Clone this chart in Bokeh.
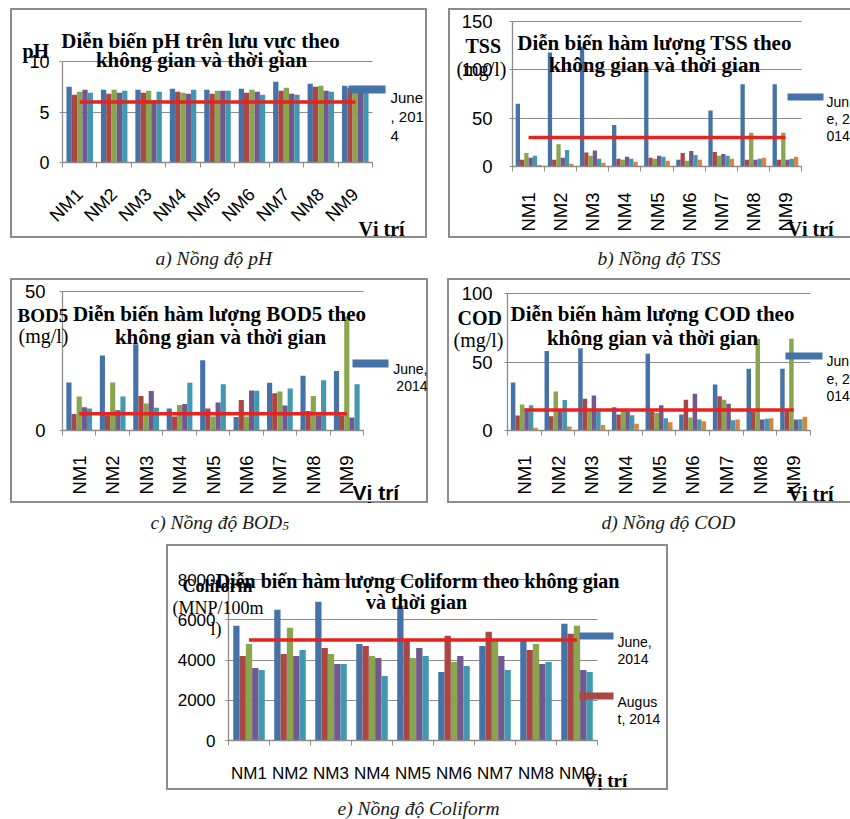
import math
from bokeh.plotting import figure
from bokeh.models import Range1d, FixedTicker, Label, BoxAnnotation, Spacer
from bokeh.layouts import column, row
from bokeh.embed import file_html
from bokeh.resources import INLINE

# ---------------- data ----------------
categories = ["NM1", "NM2", "NM3", "NM4", "NM5", "NM6", "NM7", "NM8", "NM9"]
series_names = ["June, 2014", "August, 2014", "Đợt 3", "Đợt 4", "Đợt 5", "Đợt 6"]
series_colors = ["#4572A7", "#AA4643", "#89A54E", "#71588F", "#4198AF", "#DB843D"]

ph_s1 = [7.5, 7.2, 7.2, 7.3, 7.2, 7.3, 8.0, 7.8, 7.6]
ph_s2 = [6.7, 6.8, 6.9, 7.0, 6.8, 6.9, 7.1, 7.5, 7.4]
ph_s3 = [7.0, 7.2, 7.1, 6.9, 7.1, 7.2, 7.4, 7.6, 6.9]
ph_s4 = [7.2, 6.9, 6.2, 6.8, 7.1, 7.0, 6.8, 7.1, 7.1]
ph_s5 = [6.9, 7.1, 7.0, 7.2, 7.1, 6.7, 6.7, 7.0, 7.0]
ph_limit = 6
ph_ticks = [0, 5, 10]

tss_s1 = [65, 118, 124, 43, 103, 7, 58, 85, 85]
tss_s2 = [7, 7, 14.5, 8, 9, 14, 15, 7, 7]
tss_s3 = [14, 23, 11, 7, 8, 6, 11, 35, 35]
tss_s4 = [9, 9, 16.5, 10, 11, 16, 13, 7, 7]
tss_s5 = [11, 17, 8, 8, 10, 12, 11, 8, 8]
tss_s6 = [1.5, 2.8, 3.8, 4.8, 5.9, 6.9, 7.9, 9.0, 10.0]
tss_limit = 30
tss_ticks = [0, 50, 100, 150]

bod_s1 = [17.3, 27, 31, 7.9, 25.3, 4.9, 17.2, 19.7, 21.4]
bod_s2 = [5.9, 5.5, 12.4, 5.0, 7.9, 11, 13.4, 7.0, 5.5]
bod_s3 = [12.2, 17.3, 9.7, 9.2, 5.0, 5.0, 14, 12.4, 41]
bod_s4 = [8.4, 7.3, 14.2, 9.5, 10.1, 14.4, 9.0, 5.5, 4.7]
bod_s5 = [7.9, 12.2, 8.2, 17.2, 16.6, 14.3, 15.1, 18.1, 16.6]
bod_limit = 6
bod_ticks = [0, 50]

cod_s1 = [35, 58, 60, 17, 56, 11.6, 33.6, 45, 45]
cod_s2 = [11, 10.4, 23.2, 11.6, 14, 22.5, 25, 14, 14]
cod_s3 = [19, 28.5, 14, 14.5, 12.8, 9.4, 22.5, 67, 67]
cod_s4 = [16, 14, 25.6, 14, 18.4, 26.8, 19.6, 8, 8]
cod_s5 = [18.4, 22.2, 14, 11.1, 8.9, 8, 7.5, 8.5, 8.2]
cod_s6 = [2, 3, 4, 5, 6, 6.8, 8, 9, 10]
cod_limit = 15
cod_ticks = [0, 50, 100]

col_s1 = [5700, 6500, 6900, 4800, 6700, 3400, 4700, 5000, 5800]
col_s2 = [4200, 4300, 4600, 4700, 5000, 5200, 5400, 4500, 5300]
col_s3 = [4800, 5600, 4300, 4200, 4100, 3900, 5000, 4800, 5700]
col_s4 = [3600, 4200, 3800, 4100, 4600, 4200, 4200, 3800, 3500]
col_s5 = [3500, 4500, 3800, 3200, 4200, 3700, 3500, 3900, 3400]
col_limit = 5000
col_ticks = [0, 2000, 4000, 6000, 8000]

# ---------------- style ----------------
SERIF = "Liberation Serif"
SANS = "Liberation Sans"
GRAY = "#8c8c8c"
LIMIT_RED = "#E52421"
FULL_BOX = "inset 0 0 0 2px #8c8c8c"
OPEN_BOX = "inset 2px 0 0 #8c8c8c, inset 0 2px 0 #8c8c8c, inset 0 -2px 0 #8c8c8c"


def make_panel(g, series, limit, yticks, orient, xstand, ystand, tick_size,
               texts, swatches, box_shadow):
    """g: figure box (fx, fy, w, h) and plot area (L, T, R, B), page pixels."""
    n = len(categories)
    ymax = yticks[-1]
    l = g["L"] - g["fx"]
    t = g["T"] - g["fy"]
    r = g["R"] - g["fx"]
    b = g["B"] - g["fy"]
    sx = (r - l) / n
    sy = (b - t) / ymax

    def to_data(X, Y):
        return ((X - g["L"]) / sx, (g["B"] - Y) / sy)

    p = figure(width=g["w"], height=g["h"],
               x_range=Range1d(-l / sx, (g["w"] - l) / sx),
               y_range=Range1d(-(g["h"] - b) / sy, b / sy),
               title=None, toolbar_location=None, output_backend="svg",
               min_border=0, min_border_left=0, min_border_right=0,
               min_border_top=0, min_border_bottom=0,
               border_fill_color=None, background_fill_color=None,
               outline_line_color=None)
    p.styles = {"box-shadow": box_shadow}

    k = len(series)
    bw = 1.0 / (k + 1.5)
    centers = [i + 0.5 for i in range(n)]
    for j, vals in enumerate(series):
        xs = [c + (j - (k - 1) / 2.0) * bw for c in centers]
        p.vbar(x=xs, top=vals, bottom=0, width=bw,
               fill_color=series_colors[j], line_color=None)
    p.line(x=centers, y=[limit] * n, line_color=LIMIT_RED, line_width=3.5)

    xa = p.xaxis[0]
    xa.fixed_location = 0
    xa.bounds = (0, n)
    xa.ticker = FixedTicker(ticks=centers, minor_ticks=list(range(n + 1)))
    xa.major_label_overrides = {c: name for c, name in zip(centers, categories)}
    xa.major_tick_out = 0
    xa.major_tick_in = 0
    xa.minor_tick_out = 5
    xa.minor_tick_in = 0
    xa.minor_tick_line_color = GRAY
    xa.axis_line_color = GRAY
    xa.axis_line_width = 1.3
    xa.major_label_orientation = orient
    xa.major_label_standoff = xstand
    xa.major_label_text_font = SANS
    xa.major_label_text_font_size = tick_size
    xa.major_label_text_color = "black"

    ya = p.yaxis[0]
    ya.fixed_location = 0
    ya.bounds = (0, ymax)
    ya.ticker = FixedTicker(ticks=yticks, minor_ticks=[])
    ya.major_tick_out = 3
    ya.major_tick_in = 0
    ya.minor_tick_out = 0
    ya.minor_tick_in = 0
    ya.major_tick_line_color = GRAY
    ya.axis_line_color = GRAY
    ya.axis_line_width = 1.3
    ya.major_label_standoff = ystand
    ya.major_label_text_font = SANS
    ya.major_label_text_font_size = tick_size
    ya.major_label_text_color = "black"

    p.xgrid.visible = False
    yg = p.ygrid[0]
    yg.grid_line_color = GRAY
    yg.grid_line_width = 1.2
    yg.bounds = (0, ymax)
    if "cross_bounds" in yg.properties():
        yg.cross_bounds = (0, n)
    else:
        yg.visible = False
        p.segment(x0=[0] * len(yticks), x1=[n] * len(yticks), y0=yticks, y1=yticks,
                  line_color=GRAY, line_width=1.2, level="underlay")

    for (txt, X, Y, align, font, size, style) in texts:
        x, y = to_data(X, Y)
        p.add_layout(Label(x=x, y=y, text=txt, text_align=align,
                           text_baseline="alphabetic", text_font=font,
                           text_font_size=size, text_font_style=style,
                           text_color="black"))
    for (j, X1, X2, Y1, Y2) in swatches:
        x1, y1 = to_data(X1, Y1)
        x2, y2 = to_data(X2, Y2)
        p.add_layout(BoxAnnotation(left=x1, right=x2, top=y1, bottom=y2,
                                   fill_color=series_colors[j], fill_alpha=1,
                                   line_color=None))
    return p


def T(txt, X, Y, align="center", font=SERIF, size="21px", style="bold"):
    return (txt, X, Y, align, font, size, style)


def L(txt, X, Y, align="left", size="14px"):
    return (txt, X, Y, align, SANS, size, "normal")


# panel a: pH
pa = make_panel(
    dict(fx=10, fy=8, w=417, h=230, L=62, R=372, T=61, B=162),
    [ph_s1, ph_s2, ph_s3, ph_s4, ph_s5], ph_limit, ph_ticks, math.pi / 4, 24, 10, "18px",
    [T("Diễn biến pH trên lưu vực theo", 200, 40),
     T("không gian và thời gian", 201, 59),
     T("pH", 22, 50, "left", size="20px"),
     T("Vị trí", 358, 228, "left", size="20px"),
     L("June", 390, 97, size="15px"), L(", 201", 390, 116, size="15px"),
     L("4", 390, 135, size="15px")],
    [(0, 348, 385, 85, 93)], FULL_BOX)

# panel b: TSS
pb = make_panel(
    dict(fx=448, fy=8, w=402, h=230, L=512, R=801, T=21, B=166),
    [tss_s1, tss_s2, tss_s3, tss_s4, tss_s5, tss_s6], tss_limit, tss_ticks, math.pi / 2, 21, 17, "18.5px",
    [T("Diễn biến hàm lượng TSS theo", 654, 42),
     T("không gian và thời gian", 654, 64),
     T("TSS", 465, 45, "left", size="20px"),
     T("(mg/l)", 456, 68, "left", size="20px", style="normal"),
     T("Vị trí", 787, 228, "left", size="20px"),
     L("Jun", 826, 101), L("e, 2", 826, 118), L("014", 826, 135)],
    [(0, 787, 823, 93, 100)], OPEN_BOX)

# panel c: BOD5
pc = make_panel(
    dict(fx=10, fy=278, w=418, h=225, L=62, R=363, T=291, B=430),
    [bod_s1, bod_s2, bod_s3, bod_s4, bod_s5], bod_limit, bod_ticks, math.pi / 2, 20, 14, "18.5px",
    [T("Diễn biến hàm lượng BOD5 theo", 219, 313),
     T("không gian và thời gian", 220, 336),
     T("BOD5", 17, 315, "left", size="19px"),
     T("(mg/l)", 18, 335, "left", size="20px", style="normal"),
     T("Vị trí", 352, 492, "left", font=SANS, size="21px"),
     L("June,", 427, 368, "right"), L("2014", 427, 385, "right")],
    [(0, 352, 388, 359, 367)], FULL_BOX)

# panel d: COD
pd_ = make_panel(
    dict(fx=447, fy=278, w=403, h=225, L=507, R=810, T=293, B=430),
    [cod_s1, cod_s2, cod_s3, cod_s4, cod_s5, cod_s6], cod_limit, cod_ticks, math.pi / 2, 20, 12, "18.5px",
    [T("Diễn biến hàm lượng COD theo", 652, 313),
     T("không gian và thời gian", 652, 337),
     T("COD", 457, 317, "left", size="20px"),
     T("(mg/l)", 453, 339, "left", size="20px", style="normal"),
     T("Vị trí", 787, 493, "left", size="20px"),
     L("Jun", 826, 360), L("e, 2", 826, 378), L("014", 826, 395)],
    [(0, 785, 822, 352, 359)], OPEN_BOX)

# panel e: Coliform
pe = make_panel(
    dict(fx=166, fy=544, w=502, h=246, L=228, R=597, T=579, B=740),
    [col_s1, col_s2, col_s3, col_s4, col_s5], col_limit, col_ticks, "horizontal", 18, 10, "17px",
    [T("Diễn biến hàm lượng Coliform theo không gian", 417, 580, size="20px"),
     T("và thời gian", 416, 601, size="20px"),
     T("Coliform", 182, 585, "left", size="18px"),
     T("(MNP/100m", 172, 607, "left", size="18px", style="normal"),
     T("l)", 210, 628, "left", size="18px", style="normal"),
     T("Vị trí", 583, 780, "left", size="19px"),
     L("June,", 617, 641), L("2014", 617, 658),
     L("Augus", 617, 701), L("t, 2014", 617, 718)],
    [(0, 579, 613, 632, 639), (1, 579, 613, 692, 699)], FULL_BOX)


def caption_strip(top, height, items):
    """A text-only strip; its ranges are page pixels so labels sit where listed."""
    p = figure(width=850, height=height, x_range=Range1d(0, 850),
               y_range=Range1d(top + height, top), title=None,
               toolbar_location=None, output_backend="svg",
               x_axis_type=None, y_axis_type=None,
               min_border=0, min_border_left=0, min_border_right=0,
               min_border_top=0, min_border_bottom=0,
               border_fill_color=None, background_fill_color=None,
               outline_line_color=None)
    for (txt, X, Y, size) in items:
        p.add_layout(Label(x=X, y=Y, text=txt, text_align="left",
                           text_baseline="alphabetic", text_font=SERIF,
                           text_font_size=size, text_font_style="italic",
                           text_color="#1a1a1a"))
    return p


cap_1 = caption_strip(238, 40, [("a) Nồng độ pH", 155, 258, "19.5px"),
                                ("b) Nồng độ TSS", 597, 258, "19.5px")])
cap_2 = caption_strip(503, 41, [("c) Nồng độ BOD", 150, 522, "19.5px"),
                                ("5", 282, 525, "13px"),
                                ("d) Nồng độ COD", 601, 522, "19.5px")])
cap_3 = caption_strip(790, 29, [("e) Nồng độ Coliform", 337, 808, "19.5px")])

layout = column(
    Spacer(width=850, height=8),
    row(Spacer(width=10, height=230), pa, Spacer(width=21, height=230), pb),
    cap_1,
    row(Spacer(width=10, height=225), pc, Spacer(width=19, height=225), pd_),
    cap_2,
    row(Spacer(width=166, height=246), pe),
    cap_3,
)

open("out.html", "w").write(file_html(layout, INLINE))
